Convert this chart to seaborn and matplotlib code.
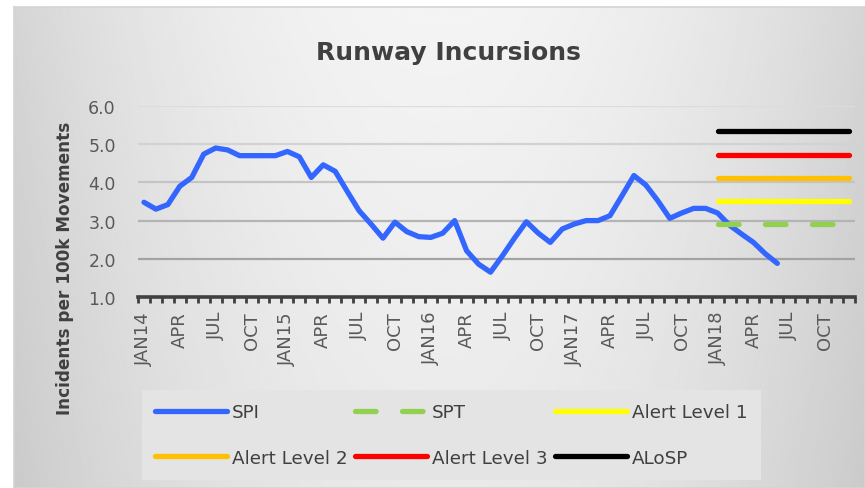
import numpy as np
import pandas as pd
import matplotlib
matplotlib.use("Agg")
import matplotlib.pyplot as plt
import seaborn as sns

# month labels Jan 2014 - Dec 2018
month_names = ["JAN", "FEB", "MAR", "APR", "MAY", "JUN",
               "JUL", "AUG", "SEP", "OCT", "NOV", "DEC"]
years = ["14", "15", "16", "17", "18"]
months = [m + y if m == "JAN" else m for y in years for m in month_names]

# SPI (incidents per 100k movements), Jan 2014 - Jun 2018
spi = [3.48, 3.30, 3.42, 3.90, 4.13, 4.74, 4.90, 4.85, 4.70, 4.70, 4.70, 4.70,
       4.81, 4.67, 4.13, 4.46, 4.29, 3.77, 3.26, 2.91, 2.54, 2.96, 2.71, 2.58,
       2.56, 2.67, 3.00, 2.21, 1.86, 1.65, 2.08, 2.54, 2.97, 2.67, 2.43, 2.78,
       2.91, 3.00, 3.00, 3.13, 3.65, 4.18, 3.93, 3.52, 3.06, 3.20, 3.32, 3.32,
       3.20, 2.88, 2.65, 2.43, 2.13, 1.88]

# 2018 target / alert levels
level_names = ["SPT", "Alert Level 1", "Alert Level 2", "Alert Level 3", "ALoSP"]
level_values = [2.90, 3.51, 4.12, 4.73, 5.34]
level_colors = ["#92D050", "#FFFF00", "#FFC000", "#FF0000", "#000000"]
level_start = "JAN18"

sns.set_style("white")
plt.rcParams["font.family"] = ["DejaVu Sans"]

fig = plt.figure(figsize=(8.65, 4.89), dpi=100)
fig.patch.set_facecolor("white")

# gradient chart background
bg = fig.add_axes([14 / 865, 0, 851 / 865, 481 / 489])
u = np.linspace(0, 1, 400)
v = np.linspace(0, 1, 240)
U, V = np.meshgrid(u, v)
shade = 0.955 - 0.12 * ((U - 0.5) / 0.5) ** 2 - 0.04 * V
bg.imshow(shade, cmap="gray", vmin=0, vmax=1, aspect="auto",
          extent=[0, 1, 1, 0], interpolation="bilinear")
bg.set_xlim(0, 1)
bg.set_ylim(1, 0)
bg.set_xticks([])
bg.set_yticks([])
for s in bg.spines.values():
    s.set_color("#d4d4d4")
    s.set_linewidth(1.2)

ax = fig.add_axes([138 / 865, 1 - 298 / 489, 717 / 865, 191 / 489])
ax.patch.set_alpha(0)

x_idx = np.arange(len(months))
df_spi = pd.DataFrame({"x": x_idx[:len(spi)], "y": spi})
sns.lineplot(data=df_spi, x="x", y="y", ax=ax, color="#3366FF", lw=3.8,
             label="SPI", solid_capstyle="round", solid_joinstyle="round", zorder=3)

i0 = months.index(level_start)
for name, val, col in zip(level_names, level_values, level_colors):
    df_lv = pd.DataFrame({"x": x_idx[i0:], "y": [val] * (len(months) - i0)})
    kw = dict(solid_capstyle="round")
    if name == "SPT":
        kw = dict(linestyle=(0, (3.9, 5.0)), dash_capstyle="round")
    sns.lineplot(data=df_lv, x="x", y="y", ax=ax, color=col, lw=3.8,
                 label=name, zorder=4, **kw)

ax.set_xlim(-0.5, len(months) - 0.5)
ax.set_ylim(1.0, 6.0)
ax.set_xlabel("")
ax.set_ylabel("")

# y axis
ax.set_yticks([1, 2, 3, 4, 5, 6])
ax.set_yticklabels([f"{t:.1f}" for t in [1, 2, 3, 4, 5, 6]])
ax.tick_params(axis="y", length=0, pad=16, labelsize=12.5, labelcolor="#595959")
grid_cols = ["#404040", "#a3a3a3", "#b4b4b4", "#c4c4c4", "#d2d2d2", "#dcdcdc"]
for yv, gc in zip([1, 2, 3, 4, 5, 6], grid_cols):
    if yv > 1:
        ax.axhline(yv, color=gc, lw=1.6, zorder=1)

# x axis: tick marks between categories, labels every quarter
ax.set_xticks(np.arange(-0.5, len(months), 1.0))
ax.set_xticklabels([])
ax.tick_params(axis="x", which="major", bottom=True, direction="out", length=4.5,
               width=2, color="#404040")
ax.set_xticks(x_idx[::3], minor=True)
ax.set_xticklabels(months[::3], minor=True, rotation=90)
ax.tick_params(axis="x", which="minor", bottom=True, length=0, pad=10,
               labelsize=13, labelcolor="#595959")

for side in ["top", "right", "left"]:
    ax.spines[side].set_visible(False)
ax.spines["bottom"].set_color("#404040")
ax.spines["bottom"].set_linewidth(2.6)
ax.grid(False)

fig.text(448 / 865, 1 - 60 / 489, "Runway Incursions", ha="center",
         va="baseline", fontsize=18, fontweight="bold", color="#404040")
fig.text(65 / 865, 1 - 268 / 489, "Incidents per 100k Movements", rotation=90,
         ha="center", va="center", fontsize=12.2, fontweight="bold", color="#404040")

handles, labels = ax.get_legend_handles_labels()
order = ["SPI", "Alert Level 2", "SPT", "Alert Level 3", "Alert Level 1", "ALoSP"]
hmap = dict(zip(labels, handles))
leg = ax.legend([hmap[k] for k in order], order, ncol=3, loc="upper left",
                bbox_to_anchor=(142 / 865, 1 - 391 / 489),
                bbox_transform=fig.transFigure, fontsize=13.2,
                handlelength=3.9, handletextpad=0.3, columnspacing=0.4,
                labelspacing=1.5, borderpad=0.72, borderaxespad=0,
                frameon=True, fancybox=False, framealpha=1)
leg.get_frame().set_facecolor("#e4e4e4")
leg.get_frame().set_edgecolor("none")
for t in leg.get_texts():
    t.set_color("#404040")

fig.savefig("out.png", dpi=100)
